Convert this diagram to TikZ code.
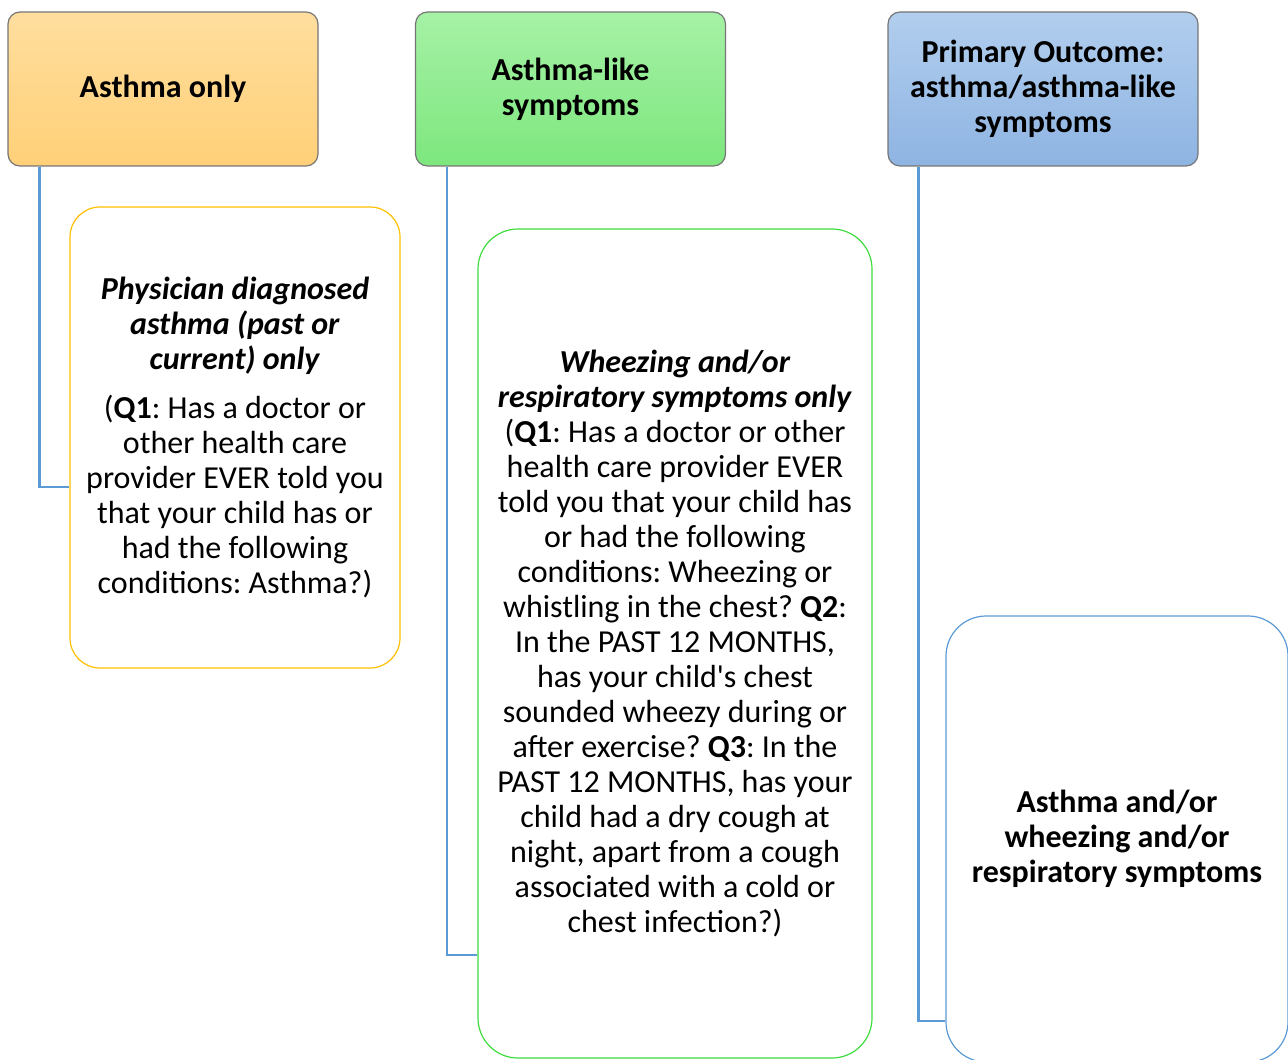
\documentclass[tikz,border=0pt]{standalone}
\usepackage{fontspec}
\setmainfont{Carlito}
\frenchspacing
\definecolor{hdrline}{HTML}{767676}
\definecolor{orgtop}{HTML}{FFDE9E}
\definecolor{orgbot}{HTML}{FFD078}
\definecolor{grntop}{HTML}{A6F1A6}
\definecolor{grnbot}{HTML}{7DE77D}
\definecolor{blutop}{HTML}{B2CEEE}
\definecolor{blubot}{HTML}{8EB4E2}
\definecolor{goldline}{HTML}{FFC000}
\definecolor{grnline}{HTML}{3EDC3E}
\definecolor{bluline}{HTML}{5B9BD5}

\begin{document}
\begin{tikzpicture}[x=0.5pt, y=-0.5pt,
		every node/.style={font=\fontsize{16}{17.5}\selectfont, align=center, inner sep=0pt},
		hdr/.style={draw=hdrline, line width=0.6pt, rounded corners=6pt,
			minimum width=155pt, minimum height=77pt, font=\fontsize{16}{17.5}\selectfont\bfseries},
		item/.style={draw, line width=0.6pt, fill=white},
		conn/.style={draw=bluline, line width=1.3pt}]
			\clip (0,0) rectangle (1288,1059);
			% top row
			\node[hdr, top color=orgtop, bottom color=orgbot] (asthma) at (163,89) {Asthma only};
			\node[hdr, top color=grntop, bottom color=grnbot] (like) at (570.5,89) {Asthma-like\\symptoms};
			\node[hdr, top color=blutop, bottom color=blubot] (primary) at (1043,89)
				{Primary Outcome:\\asthma/asthma-like\\symptoms};
			% legs start under the left part of each header
			\path ([xshift=16pt]asthma.south west) coordinate (asthmaLeg);
			\path ([xshift=16pt]like.south west) coordinate (likeLeg);
			\path ([xshift=15.5pt]primary.south west) coordinate (primaryLeg);
			\path (235,437.5) coordinate (c1);
			\path (675,643.5) coordinate (c2);
			\path (1117,839) coordinate (c3);
			\node[item, draw=goldline, rounded corners=15pt, minimum width=165pt, minimum height=230.5pt]
				(diag) at (c1) {\textbf{\textit{Physician diagnosed}}\\
				\textbf{\textit{asthma (past or}}\\
				\textbf{\textit{current) only}}\\[7pt]
				(\textbf{Q1}: Has a doctor or\\
				other health care\\
				provider EVER told you\\
				that your child has or\\
				had the following\\
				conditions: Asthma?)};
			\node[item, draw=grnline, rounded corners=20pt, minimum width=197pt, minimum height=414.5pt]
				(wheeze) at (c2) {\textbf{\textit{Wheezing and/or}}\\
				\textbf{\textit{respiratory symptoms only}}\\
				(\textbf{Q1}: Has a doctor or other\\
				health care provider EVER\\
				told you that your child has\\
				or had the following\\
				conditions: Wheezing or\\
				whistling in the chest? \textbf{Q2}:\\
				In the PAST 12 MONTHS,\\
				has your child\textquotesingle s chest\\
				sounded wheezy during or\\
				after exercise? \textbf{Q3}: In the\\
				PAST 12 MONTHS, has your\\
				child had a dry cough at\\
				night, apart from a cough\\
				associated with a cold or\\
				chest infection?)};
			\node[item, draw=bluline, rounded corners=20pt, minimum width=171pt, minimum height=223pt]
				(either) at (c3) {\textbf{Asthma and/or}\\
				\textbf{wheezing and/or}\\
				\textbf{respiratory symptoms}};
			\draw[conn] (asthmaLeg) |- ([yshift=-24.75pt]diag.west);
			\draw[conn] (likeLeg) |- ([yshift=-155.75pt]wheeze.west);
			\draw[conn] (primaryLeg) |- ([yshift=-91pt]either.west);
		\end{tikzpicture}
\end{document}
